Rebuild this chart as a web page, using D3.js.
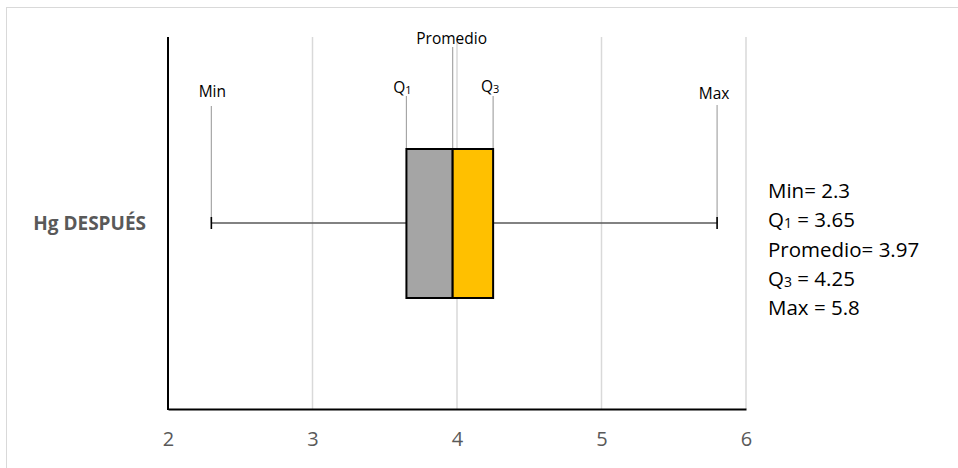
<!DOCTYPE html>
<html><head><meta charset="utf-8">
<script src="https://cdn.jsdelivr.net/npm/d3@7"></script>
<style>body{margin:0;background:#fff}svg{display:block}text{font-family:"Open Sans",sans-serif}</style>
</head><body><svg id="c" width="958" height="468"></svg>
<script>
const category = "Hg DESPUÉS";
const statKeys = ["Min", "Q1", "Promedio", "Q3", "Max"];
const statValues = [2.3, 3.65, 3.97, 4.25, 5.8];
const xTicks = [2, 3, 4, 5, 6];
const legendLines = [
  ["Min= 2.3", null, ""],
  ["Q", "1", " = 3.65"],
  ["Promedio= 3.97", null, ""],
  ["Q", "3", " = 4.25"],
  ["Max = 5.8", null, ""]
];

const svg = d3.select("#c");
const v = Object.fromEntries(statKeys.map((k, i) => [k, statValues[i]]));
const x = d3.scaleLinear().domain([2, 6]).range([168, 746]);
const y = d3.scaleBand().domain([category]).range([409, 37]);
const yc = y(category) + y.bandwidth() / 2;
const boxTop = 149, boxBot = 298;

// outer border
svg.append("rect").attr("x", 6.5).attr("y", 7.5).attr("width", 980).attr("height", 500)
  .attr("fill", "none").attr("stroke", "#d9d9d9").attr("stroke-width", 1);

// grid
svg.append("g").selectAll("line").data(xTicks.slice(1)).join("line")
  .attr("x1", d => x(d)).attr("x2", d => x(d)).attr("y1", 37).attr("y2", 409)
  .attr("stroke", "#d9d9d9").attr("stroke-width", 1.5);

// x axis
const xa = svg.append("g").attr("transform", "translate(0,409)")
  .call(d3.axisBottom(x).tickValues(xTicks).tickSize(0).tickPadding(23).tickFormat(d3.format("d")));
xa.select(".domain").attr("stroke", "#000").attr("stroke-width", 2);
xa.selectAll("text").attr("fill", "#595959").attr("font-size", 20).attr("font-family", "Open Sans");

// y axis
svg.append("line").attr("x1", x(2)).attr("x2", x(2)).attr("y1", 37).attr("y2", 410)
  .attr("stroke", "#000").attr("stroke-width", 2);

// category label
svg.append("text").attr("x", 146).attr("y", yc + 7).attr("text-anchor", "end")
  .attr("font-weight", "bold").attr("font-size", 19).attr("fill", "#595959").text(category);

// label pointer lines
const ptr = [
  {k: "Min", y1: 106, y2: yc},
  {k: "Q1", y1: 96, y2: boxTop},
  {k: "Promedio", y1: 47, y2: boxTop},
  {k: "Q3", y1: 96, y2: boxTop},
  {k: "Max", y1: 105, y2: yc}
];
svg.append("g").selectAll("line").data(ptr).join("line")
  .attr("x1", d => x(v[d.k])).attr("x2", d => x(v[d.k]))
  .attr("y1", d => d.y1).attr("y2", d => d.y2)
  .attr("stroke", "#a6a6a6").attr("stroke-width", 1.2);

// whisker
svg.append("line").attr("x1", x(v.Min)).attr("x2", x(v.Q1)).attr("y1", yc).attr("y2", yc)
  .attr("stroke", "#595959").attr("stroke-width", 1.5);
svg.append("line").attr("x1", x(v.Q3)).attr("x2", x(v.Max)).attr("y1", yc).attr("y2", yc)
  .attr("stroke", "#595959").attr("stroke-width", 1.5);
svg.append("g").selectAll("line").data([v.Min, v.Max]).join("line")
  .attr("x1", d => x(d)).attr("x2", d => x(d)).attr("y1", yc - 6).attr("y2", yc + 6)
  .attr("stroke", "#000").attr("stroke-width", 1.6);

// boxes
svg.append("rect").attr("x", x(v.Q1)).attr("y", boxTop).attr("width", x(v.Promedio) - x(v.Q1))
  .attr("height", boxBot - boxTop).attr("fill", "#a5a5a5").attr("stroke", "#000").attr("stroke-width", 2);
svg.append("rect").attr("x", x(v.Promedio)).attr("y", boxTop).attr("width", x(v.Q3) - x(v.Promedio))
  .attr("height", boxBot - boxTop).attr("fill", "#ffc000").attr("stroke", "#000").attr("stroke-width", 2);

// top labels
const topLabels = [
  {k: "Min", t: "Min", sub: null, y: 97, dx: 1},
  {k: "Q1", t: "Q", sub: "1", y: 93, dx: -4},
  {k: "Promedio", t: "Promedio", sub: null, y: 44, dx: -1},
  {k: "Q3", t: "Q", sub: "3", y: 92, dx: -3},
  {k: "Max", t: "Max", sub: null, y: 99, dx: -3}
];
topLabels.forEach(d => {
  const t = svg.append("text").attr("x", x(v[d.k]) + d.dx).attr("y", d.y)
    .attr("text-anchor", "middle").attr("font-size", 15.5).attr("fill", "#000");
  t.append("tspan").text(d.t);
  if (d.sub) t.append("tspan").attr("font-size", 11).attr("dy", 1).text(d.sub);
});

// stats legend
legendLines.forEach((l, i) => {
  const t = svg.append("text").attr("x", 768).attr("y", 198 + i * 29.3)
    .attr("font-size", 20.5).attr("fill", "#000");
  t.append("tspan").text(l[0]);
  if (l[1]) {
    t.append("tspan").attr("font-size", 14).attr("dy", 1).text(l[1]);
    t.append("tspan").attr("dy", -1).text(l[2]);
  }
});
</script></body></html>
